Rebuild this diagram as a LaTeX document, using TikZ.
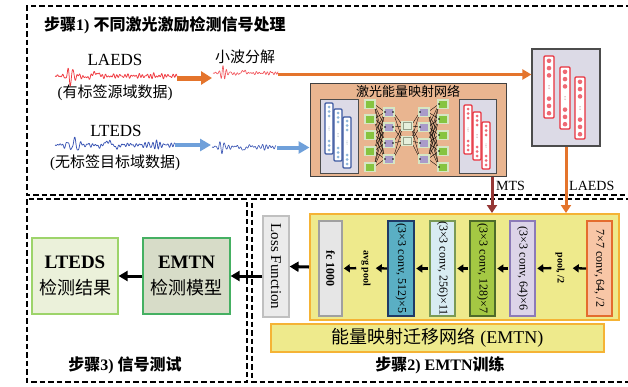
\documentclass[tikz,border=0pt]{standalone}
\usepackage{fontspec}
\setmainfont{Liberation Serif}
\newfontfamily\cjk{Noto Sans CJK SC}
\usetikzlibrary{arrows.meta}
\newcommand\zh[1]{{\cjk #1}}
\newcommand\fs[2]{\fontsize{#1}{#2}\selectfont}
\definecolor{corange}{HTML}{E4742C}
\definecolor{cblue}{HTML}{6FA0DA}
\definecolor{wred}{HTML}{F03A40}
\definecolor{wblue}{HTML}{3A55B5}
\definecolor{cdred}{HTML}{953735}
\definecolor{netfill}{HTML}{E9B590}
\definecolor{grayfill}{HTML}{DCDAE6}
\definecolor{colred}{HTML}{E8303C}
\definecolor{dotred}{HTML}{EE6A74}
\definecolor{colblue}{HTML}{3B57A0}
\definecolor{dotblue}{HTML}{8FB6D9}
\definecolor{sqgreen}{HTML}{86C440}
\definecolor{sqpurple}{HTML}{A99BC9}
\definecolor{halo}{HTML}{D6E6C4}
\definecolor{yfill}{HTML}{EEEA8C}
\definecolor{yborder}{HTML}{F5B335}
\definecolor{c77f}{HTML}{F8C6A6}\definecolor{c77d}{HTML}{E46C2E}
\definecolor{c64f}{HTML}{DCD4E8}\definecolor{c64d}{HTML}{8C7BB8}
\definecolor{c128f}{HTML}{A4C843}\definecolor{c128d}{HTML}{4E6B2A}
\definecolor{c256f}{HTML}{D8ECF2}\definecolor{c256d}{HTML}{7A9A55}
\definecolor{c512f}{HTML}{5AAFC4}\definecolor{c512d}{HTML}{1F3A66}
\definecolor{fcf}{HTML}{E6E6E6}\definecolor{fcd}{HTML}{A0A0A0}
\definecolor{lossf}{HTML}{EBEBEB}\definecolor{lossd}{HTML}{C0C0C0}
\definecolor{resf}{HTML}{EBF1DA}\definecolor{resd}{HTML}{9DD46A}
\definecolor{emtnf}{HTML}{D7DCC8}\definecolor{emtnd}{HTML}{45B062}
% macro for neural columns: x, top, bottom, halfwidth, border, dots, r, spacing
\newcommand\nncol[8]{%
  \draw[#5, line width=1.1pt, fill=white, rounded corners=1pt] ({#1-#4},#2) rectangle ({#1+#4},#3);
  \foreach \k in {0,1,2}{%
    \fill[#6] (#1,{#2+#7+2.5+\k*#8}) circle (#7);
    \fill[#6] (#1,{#3-#7-2.5-\k*#8}) circle (#7);}
  \foreach \k in {-1,0,1}{\fill[#6!70!black] (#1,{(#2+#3)/2+\k*1.6}) circle (0.4);}
}
\begin{document}
\begin{tikzpicture}[x=1pt,y=-1pt,
  declare function={bump(\t,\c,\w)=1/(1+((\t-\c)/\w)*((\t-\c)/\w));
                    bb(\t,\c,\w)=bump(\t,\c,\w)*bump(\t,\c,\w);
                    ramp(\t)=min(1,\t/5);},
  dbox/.style={draw=black, line width=1.4pt, dash pattern=on 5.5pt off 3pt},
  oarrow/.style={draw=corange, line width=5pt, -{Triangle[length=11pt,width=13pt]}},
  barrowb/.style={draw=cblue, line width=4pt, -{Triangle[length=11pt,width=12pt]}},
  oline/.style={draw=corange, line width=3pt, -{Triangle[length=9pt,width=10pt]}},
  karrow/.style={draw=black, line width=2.3pt, -{Triangle[length=6pt,width=8pt]}},
  karrowL/.style={draw=black, line width=3pt, -{Triangle[length=9pt,width=10pt]}},
  colbox/.style={draw, line width=1.6pt, rotate=-90, minimum width=95pt, minimum height=25pt, inner sep=0pt, font=\fs{12}{14}},
  vtext/.style={rotate=-90, inner sep=1pt, font=\fs{10}{12}\bfseries},
  ybox/.style={draw=yborder, fill=yfill, line width=2pt, inner sep=0pt},
  graybox/.style={draw=black!70, fill=grayfill, line width=1pt, inner sep=0pt},
  lbl/.style={inner sep=0pt, font=\fs{15}{18}},
  elbl/.style={inner sep=0pt, font=\fs{17}{19}},
  steplbl/.style={inner sep=0pt, font=\fs{16}{19}\bfseries},
  resbox/.style={line width=1.2pt, minimum height=76pt, inner sep=0pt, align=center, font=\fs{18}{26}},
  wave/.style={line width=0.75pt, line join=round},
]
\useasboundingbox (0,0) rectangle (628,386);
\fill[white] (0,0) rectangle (628,386);

% ---------- dashed step frames ----------
\draw[dbox] (631,6) -- (27,6) -- (27,195) -- (631,195);
\draw[dbox] (27,199) rectangle (247,382);
\draw[dbox] (631,199) -- (252,199) -- (252,382) -- (631,382);

% ---------- step 1 ----------
\node[steplbl, anchor=west] (t1) at (44,25) {\zh{\bfseries 步骤}1) \zh{\bfseries 不同激光激励检测信号处理}};

\node[elbl] (laeds) at (115,60) {LAEDS};
\node[lbl] (laedsd) at (115,93) {(\zh{有标签源域数据})};
\node[lbl] (wav) at (245,57) {\zh{小波分解}};
\node[elbl] (lteds) at (116,131) {LTEDS};
\node[lbl] (ltedsd) at (115,163) {(\zh{无标签目标域数据})};

% waveforms
\begin{scope}[shift={(55,76)}]
\draw[wred, wave] plot[domain=0:122, samples=400]
  (\x, {ramp(\x)*( 8.5*bb(\x,15,7)*sin(70*\x+90)
       + 4*bb(\x,38,9)*sin(15*\x)
       + (1.8+0.8*bb(\x,100,10))*(0.6*sin(127*\x)+0.5*sin(97*\x+20)+0.35*sin(53*\x+70)) )});
\end{scope}
\begin{scope}[shift={(213,73)}]
\draw[wred!85, wave, line width=0.65pt] plot[domain=0:65, samples=220]
  (\x, {ramp(\x)*( 6*bb(\x,10,5)*sin(100*\x)
       + 2.5*bb(\x,28,7)*sin(20*\x)
       + (1.2+1*bb(\x,58,5))*(0.6*sin(131*\x)+0.5*sin(97*\x+20)+0.35*sin(53*\x+70)) )});
\end{scope}
\begin{scope}[shift={(55,145)}]
\draw[wblue, wave] plot[domain=0:120, samples=400]
  (\x, {ramp(\x)*( 7*bb(\x,20,9)*sin(51*\x)
       + 4*bb(\x,55,12)*sin(18*\x+40)
       + 4*bb(\x,102,12)*sin(95*\x)
       + 1.6*(0.6*sin(123*\x)+0.5*sin(83*\x+20)+0.35*sin(41*\x+70)) )});
\end{scope}
\begin{scope}[shift={(212,147)}]
\draw[wblue, wave, line width=0.65pt] plot[domain=0:64, samples=220]
  (\x, {ramp(\x)*( 5.5*bb(\x,10,6)*sin(80*\x)
       + 3.3*bb(\x,32,7)*sin(25*\x+30)
       + 2.8*bb(\x,52,7)*sin(105*\x)
       + 1.3*(0.6*sin(123*\x)+0.5*sin(83*\x+20)+0.35*sin(41*\x+70)) )});
\end{scope}

\coordinate (oa1) at (177,78);
\coordinate (oa2) at (212,78);
\coordinate (ol1) at (278,74.5);
\coordinate (ba1) at (175,145);
\coordinate (ba2) at (211,145);
\coordinate (bb1) at (277,147.5);

% energy mapping network box
\node[draw=black!75, fill=netfill, line width=1pt, minimum width=196pt, minimum height=93pt, inner sep=0pt] (netbox) at (408,129.5) {};
\node[inner sep=0pt, font=\fs{13}{15}] (nettitle) at (408,91) {\zh{激光能量映射网络}};
\node[graybox, minimum width=38pt, minimum height=74pt] (gl) at (339,136) {};
\node[graybox, minimum width=37pt, minimum height=74pt] (gr) at (477.5,136) {};
\nncol{329}{103}{154}{4}{colblue}{dotblue}{1.5}{4.5}
\nncol{338}{109}{161}{4}{colblue}{dotblue}{1.5}{4.5}
\nncol{347}{117}{168}{4}{colblue}{dotblue}{1.5}{4.5}
\nncol{468}{105}{154}{4}{colred}{dotred}{1.5}{4.5}
\nncol{477}{112}{160}{4}{colred}{dotred}{1.5}{4.5}
\nncol{486}{122}{169}{4}{colred}{dotred}{1.5}{4.5}

% middle autoencoder
\foreach \ya in {104,119,135,151,167}{
  \foreach \yb in {112,127,143,159}{
    \draw[line width=0.35pt] (374,\ya) -- (385,\yb);
    \draw[line width=0.35pt] (428,\yb) -- (439,\ya);}}
\foreach \yb in {112,127,143,159}{
  \foreach \yc in {126,141}{
    \draw[line width=0.35pt] (393,\yb) -- (403,\yc);
    \draw[line width=0.35pt] (411,\yc) -- (420,\yb);}}
\foreach \y in {104,119,135,151,167}{
  \fill[halo] (364,{\y-5}) rectangle (376,{\y+5});
  \fill[sqgreen] (366,{\y-3.5}) rectangle (374,{\y+3.5});
  \fill[halo] (437,{\y-5}) rectangle (449,{\y+5});
  \fill[sqgreen] (439,{\y-3.5}) rectangle (447,{\y+3.5});
  \fill[black] (439,\y) circle (0.9);}
\foreach \y in {112,127,143,159}{
  \fill[halo] (383,{\y-5}) rectangle (395,{\y+5});
  \fill[sqpurple] (385,{\y-3.5}) rectangle (393,{\y+3.5});
  \fill[halo] (418,{\y-5}) rectangle (430,{\y+5});
  \fill[sqpurple] (420,{\y-3.5}) rectangle (428,{\y+3.5});
  \fill[black] (385,\y) circle (0.9);
  \fill[black] (393,\y) circle (0.9);
  \fill[black] (420,\y) circle (0.9);}
\foreach \y in {126,141}{
  \fill[halo!80!white] (401,{\y-5}) rectangle (413,{\y+5});
  \draw[halo!70!black, line width=0.4pt, fill=halo!60!white] (403,{\y-3.5}) rectangle (411,{\y+3.5});}

% right box (source features)
\node[graybox, line width=1.2pt, minimum width=68pt, minimum height=97pt] (rbox) at (566,97.5) {};
\nncol{549}{56}{118}{5}{colred}{dotred}{2.3}{7.3}
\nncol{565}{67}{129}{5}{colred}{dotred}{2.3}{7.3}
\nncol{580}{77}{139}{5}{colred}{dotred}{2.3}{7.3}

% arrows of step 1
\draw[oarrow] (oa1) -- (oa2);
\draw[barrowb] (ba1) -- (ba2);
\draw[barrowb] (bb1) -- (bb1 -| netbox.west);
\draw[oline] (ol1) -- (ol1 -| rbox.west);

% ---------- step 2 ----------
\node[ybox, minimum width=309pt, minimum height=106pt] (ybox) at (464.5,267) {};
\node[ybox, minimum width=333pt, minimum height=28pt, font=\fs{18}{20}] (emtnbar) at (437.5,338) {\zh{能量映射迁移网络} (EMTN)};

\coordinate (mtsx) at (492,0);
\draw[draw=cdred, line width=3pt, -{Triangle[length=8pt,width=10pt]}] (mtsx |- netbox.south) -- (mtsx |- ybox.north);
\draw[draw=corange, line width=3pt, -{Triangle[length=8pt,width=10pt]}] (rbox.south) -- (rbox.south |- ybox.north);
\node[inner sep=0pt, anchor=west, font=\fs{14}{16}] (mts) at (496,186) {MTS};
\node[inner sep=0pt, anchor=west, font=\fs{14}{16}] (laedsl) at (569,186) {LAEDS};

\node[colbox, draw=c77d, fill=c77f] (c77) at (599.5,268.5) {7×7 conv, 64, /2};
\node[vtext] (pool) at (560,268) {pool, /2};
\node[colbox, draw=c64d, fill=c64f] (c64) at (522.5,268.5) {(3×3 conv, 64)×6};
\node[colbox, draw=c128d, fill=c128f] (c128) at (482.5,268.5) {(3×3 conv, 128)×7};
\node[colbox, draw=c256d, fill=c256f] (c256) at (442.5,268.5) {(3×3 conv, 256)×11};
\node[colbox, draw=c512d, fill=c512f, minimum height=26pt] (c512) at (401,268.5) {(3×3 conv, 512)×5};
\node[vtext] (avg) at (366,268) {avg pool};
\node[colbox, draw=fcd, fill=fcf, minimum height=23pt, font=\fs{12}{14}\bfseries] (fc) at (330.5,268.5) {fc 1000};
\node[colbox, draw=lossd, fill=lossf, line width=1.2pt, minimum width=101pt, minimum height=26pt, font=\fs{15}{17}] (loss) at (276,266.5) {Loss Function};

\draw[karrow, shorten >=7pt] (c77.south) -- (pool.north);
\draw[karrow, shorten <=3pt, shorten >=1.5pt] (pool.south) -- (c64.north);
\draw[karrow, shorten <=1pt, shorten >=1.5pt] (c64.south) -- (c128.north);
\draw[karrow, shorten <=1pt, shorten >=1.5pt] (c128.south) -- (c256.north);
\draw[karrow, shorten <=1pt, shorten >=1.5pt] (c256.south) -- (c512.north);
\draw[karrow, shorten >=4pt] (c512.south) -- (avg.north);
\draw[karrow, shorten <=4pt, shorten >=1pt] (avg.south) -- (fc.north);
\draw[karrowL] (ybox.west) -- (loss.north);

\node[steplbl] (t2) at (440,365) {\zh{\bfseries 步骤}2) EMTN\zh{\bfseries 训练}};

% ---------- step 3 ----------
\node[resbox, draw=emtnd, fill=emtnf, minimum width=87pt] (emtn) at (186.5,276)
  {{\fs{19}{26}\bfseries EMTN}\\\zh{检测模型}};
\node[resbox, draw=resd, fill=resf, minimum width=86pt] (res) at (75,276)
  {{\fs{19}{26}\bfseries LTEDS}\\\zh{检测结果}};
\draw[karrowL] (emtn.east -| loss.south) -- (emtn.east);
\draw[karrowL] (emtn.west) -- (res.east);

\node[steplbl] (t3) at (125,365) {\zh{\bfseries 步骤}3) \zh{\bfseries 信号测试}};
\end{tikzpicture}
\end{document}
